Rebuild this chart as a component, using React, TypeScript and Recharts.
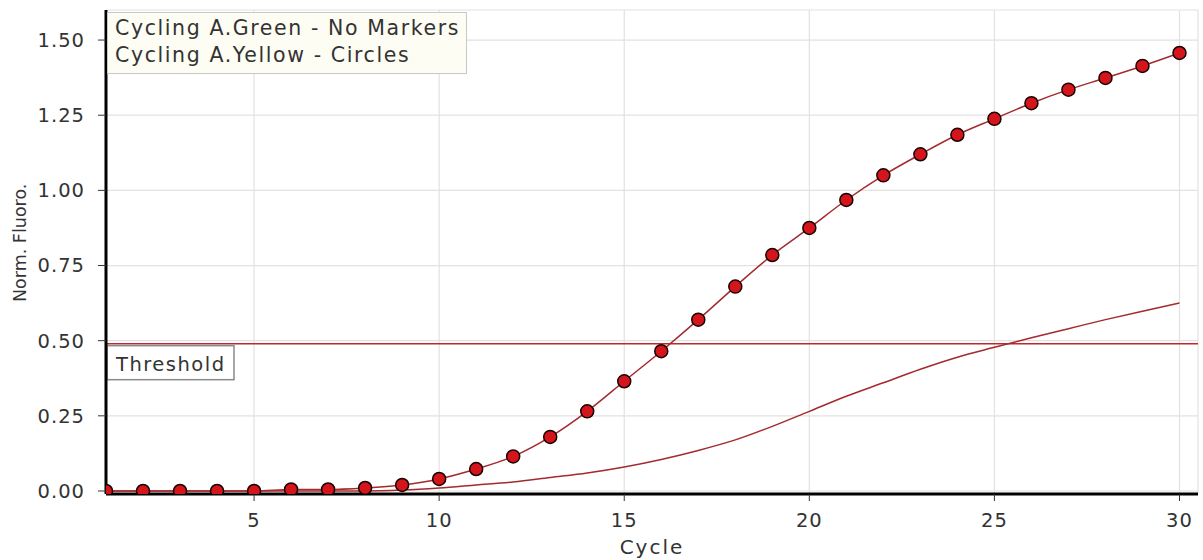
import React from 'react';
import { LineChart, Line, XAxis, YAxis, CartesianGrid, ReferenceLine, Legend } from 'recharts';

const cycles = [1,2,3,4,5,6,7,8,9,10,11,12,13,14,15,16,17,18,19,20,21,22,23,24,25,26,27,28,29,30];
const yellow = [0,0,0,0,0,0.005,0.005,0.01,0.02,0.04,0.073,0.115,0.18,0.265,0.365,0.465,0.57,0.68,0.785,0.875,0.968,1.05,1.12,1.185,1.238,1.29,1.335,1.374,1.414,1.457];
const green = [0,0,0,0,0,0,0,0,0.003,0.01,0.02,0.03,0.045,0.06,0.08,0.105,0.135,0.17,0.215,0.265,0.315,0.36,0.405,0.445,0.478,0.51,0.54,0.57,0.598,0.625];
const xTicks = [5,10,15,20,25,30];
const yTicks = [0,0.25,0.5,0.75,1,1.25,1.5];
const threshold = 0.49;
const legendItems = ['Cycling A.Green - No Markers', 'Cycling A.Yellow - Circles'];

const data = cycles.map((c, i) => ({ cycle: c, green: green[i], yellow: yellow[i] }));

const FONT = '"DejaVu Sans", sans-serif';

const ThresholdLabel = (props: any) => {
  const vb = props.viewBox || {};
  const x = vb.x ?? 0;
  const y = vb.y ?? 0;
  return (
    <g>
      <rect x={x + 1} y={y + 2} width={127} height={34} fill="#ffffff" stroke="#8a8a8a" strokeWidth={1.5} />
      <text x={x + 10} y={y + 27} fontFamily={FONT} fontSize={19.5} letterSpacing={1.5} fill="#333">Threshold</text>
    </g>
  );
};

const LegendBox = () => (
  <div style={{ background: '#fdfdf4', border: '1px solid #c8c8c8', padding: '2px 6px 4px 7px', fontFamily: FONT, fontSize: 20.5, letterSpacing: 1.6, color: '#333', lineHeight: '27px', textAlign: 'left', whiteSpace: 'nowrap' }}>
    {legendItems.map((t) => <div key={t}>{t}</div>)}
  </div>
);

export default function App() {
  return (
    <div style={{ position: 'absolute', left: 0, top: 0, background: '#fff' }}>
      <LineChart width={1203} height={560} data={data} margin={{ top: 10, right: 5, bottom: 26, left: 26 }}>
        <CartesianGrid stroke="#e2e2e2" strokeWidth={1.2} vertical horizontal />
        <XAxis dataKey="cycle" type="number" domain={[1, 30.5]} ticks={xTicks} allowDataOverflow
          height={40} tick={{ fill: '#333', fontSize: 19.5, fontFamily: FONT, letterSpacing: 1 }} tickLine={{ stroke: '#333' }} tickSize={7} tickMargin={12}
          axisLine={{ stroke: '#000', strokeWidth: 3 }}
          label={{ value: 'Cycle', position: 'insideBottom', offset: -20, fill: '#333', fontSize: 20, letterSpacing: 2, fontFamily: FONT }} />
        <XAxis xAxisId="top" orientation="top" dataKey="cycle" type="number" domain={[1, 30.5]} height={0} tick={false} tickLine={false} axisLine={{ stroke: '#444', strokeWidth: 2 }} />
        <YAxis type="number" domain={[-0.01, 1.6]} ticks={yTicks} allowDataOverflow width={80}
          tickFormatter={(v: number) => v.toFixed(2)}
          tick={{ fill: '#333', fontSize: 19.5, fontFamily: FONT, letterSpacing: 1 }} tickLine={{ stroke: '#333' }} tickSize={8} tickMargin={13}
          axisLine={{ stroke: '#000', strokeWidth: 3 }}
          label={{ value: 'Norm. Fluoro.', angle: -90, position: 'insideLeft', offset: -6, dy: 50, fill: '#333', fontSize: 17.5, fontFamily: FONT }} />
        <YAxis yAxisId="right" orientation="right" width={0} domain={[-0.01, 1.6]} tick={false} tickLine={false} axisLine={{ stroke: '#444', strokeWidth: 2 }} />
        <ReferenceLine y={threshold} stroke="#c0282d" strokeWidth={1.5} label={<ThresholdLabel />} ifOverflow="extendDomain" />
        <Line dataKey="green" type="monotone" stroke="#a32a2e" strokeWidth={1.5} dot={false} isAnimationActive={false} />
        <Line dataKey="yellow" type="monotone" stroke="#a32a2e" strokeWidth={1.5}
          dot={{ r: 6.5, fill: '#d4161c', stroke: '#1a0000', strokeWidth: 1.5 }} isAnimationActive={false} />
        <Legend content={<LegendBox />} layout="horizontal" verticalAlign="middle" align="center"
          wrapperStyle={{ left: 107, top: 12, width: 'auto', height: 'auto' }} />
      </LineChart>
    </div>
  );
}
